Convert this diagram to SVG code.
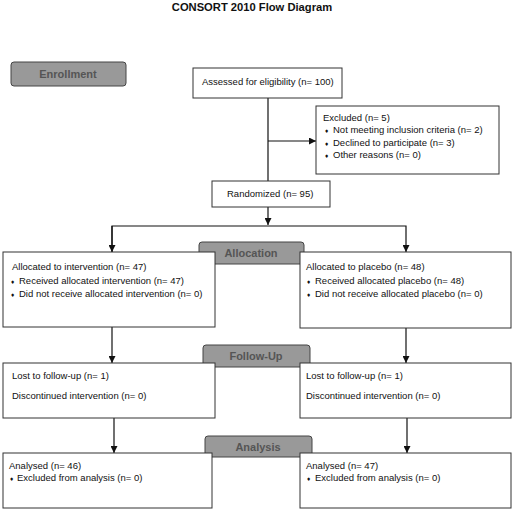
<svg xmlns="http://www.w3.org/2000/svg" width="512" height="510" viewBox="0 0 512 510">
<defs>
<marker id="ah" viewBox="0 0 10 10" refX="10" refY="5" markerWidth="7" markerHeight="7" markerUnits="userSpaceOnUse" orient="auto">
<path d="M0,0 L10,5 L0,10 z" fill="#111"/>
</marker>
<style>
.box{fill:#fff;stroke:#333;stroke-width:1}
.lab{fill:#999;stroke:#444;stroke-width:1}
.t{font-family:"Liberation Sans",Arial,sans-serif;font-size:9.5px;fill:#111}
.b{font-size:6.5px}
.lt{font-family:"Liberation Sans",Arial,sans-serif;font-size:11px;font-weight:bold;fill:#555;text-anchor:middle}
.ln{fill:none;stroke:#111;stroke-width:1.2}
</style>
</defs>
<rect width="512" height="510" fill="#fff"/>
<text x="252" y="11" font-family="Liberation Sans, Arial, sans-serif" font-size="11.2" font-weight="bold" text-anchor="middle" fill="#111">CONSORT 2010 Flow Diagram</text>

<g id="connectors">
<line class="ln" x1="268" y1="98" x2="268" y2="181"/>
<line class="ln" x1="268" y1="141" x2="316" y2="141" marker-end="url(#ah)"/>
<line class="ln" x1="268" y1="207" x2="268" y2="225" marker-end="url(#ah)"/>
<polyline class="ln" points="112,252 112,226 406,226 406,252" marker-end="url(#ah)"/>
<line class="ln" x1="112" y1="226" x2="112" y2="252" marker-end="url(#ah)"/>
<line class="ln" x1="112" y1="327" x2="112" y2="363" marker-end="url(#ah)"/>
<line class="ln" x1="406" y1="328" x2="406" y2="363" marker-end="url(#ah)"/>
<line class="ln" x1="114" y1="418" x2="114" y2="453" marker-end="url(#ah)"/>
<line class="ln" x1="407" y1="418" x2="407" y2="453" marker-end="url(#ah)"/>
</g>

<g id="enrollment">
<rect class="lab" x="11" y="62" width="115" height="24" rx="3"/>
<text class="lt" x="68" y="78">Enrollment</text>
</g>

<g id="assessed">
<rect class="box" x="193" y="68" width="149" height="30"/>
<text class="t" x="202" y="84.5">Assessed for eligibility (n= 100)</text>
</g>

<g id="excluded">
<rect class="box" x="316" y="106" width="183" height="68"/>
<text class="t" x="323" y="121">Excluded (n= 5)</text>
<text class="t" x="325" y="133"><tspan class="b">♦</tspan><tspan x="333">Not meeting inclusion criteria (n= 2)</tspan></text>
<text class="t" x="325" y="146"><tspan class="b">♦</tspan><tspan x="333">Declined to participate (n= 3)</tspan></text>
<text class="t" x="325" y="158"><tspan class="b">♦</tspan><tspan x="333">Other reasons (n= 0)</tspan></text>
</g>

<g id="randomized">
<rect class="box" x="212" y="181" width="118" height="26"/>
<text class="t" x="227" y="197">Randomized (n= 95)</text>
</g>

<g id="allocation-label">
<rect class="lab" x="199" y="242" width="105" height="22" rx="3"/>
<text class="lt" x="251" y="257">Allocation</text>
</g>

<g id="alloc-intervention">
<rect class="box" x="3" y="252" width="212" height="75"/>
<text class="t" x="12" y="270">Allocated to intervention (n= 47)</text>
<text class="t" x="11" y="284"><tspan class="b">♦</tspan><tspan x="19">Received allocated intervention (n= 47)</tspan></text>
<text class="t" x="11" y="297"><tspan class="b">♦</tspan><tspan x="19">Did not receive allocated intervention (n=  0)</tspan></text>
</g>

<g id="alloc-placebo">
<rect class="box" x="300" y="252" width="211" height="76"/>
<text class="t" x="306" y="270">Allocated to placebo (n= 48)</text>
<text class="t" x="307" y="284"><tspan class="b">♦</tspan><tspan x="315">Received allocated placebo (n= 48)</tspan></text>
<text class="t" x="307" y="297"><tspan class="b">♦</tspan><tspan x="315">Did not receive allocated placebo (n= 0)</tspan></text>
</g>

<g id="followup-label">
<rect class="lab" x="203" y="345" width="107" height="22" rx="3"/>
<text class="lt" x="256" y="360">Follow-Up</text>
</g>

<g id="followup-intervention">
<rect class="box" x="3" y="363" width="212" height="55"/>
<text class="t" x="12" y="379">Lost to follow-up (n= 1)</text>
<text class="t" x="12" y="399">Discontinued intervention (n= 0)</text>
</g>

<g id="followup-placebo">
<rect class="box" x="300" y="363" width="211" height="55"/>
<text class="t" x="306" y="379">Lost to follow-up (n= 1)</text>
<text class="t" x="306" y="399">Discontinued intervention (n= 0)</text>
</g>

<g id="analysis-label">
<rect class="lab" x="205" y="436" width="107" height="21" rx="3"/>
<text class="lt" x="258" y="451">Analysis</text>
</g>

<g id="analysis-intervention">
<rect class="box" x="3" y="453" width="209" height="55"/>
<text class="t" x="9" y="469">Analysed (n= 46)</text>
<text class="t" x="10" y="481"><tspan class="b">♦</tspan><tspan x="17">Excluded from analysis (n= 0)</tspan></text>
</g>

<g id="analysis-placebo">
<rect class="box" x="300" y="453" width="211" height="55"/>
<text class="t" x="306" y="469">Analysed (n= 47)</text>
<text class="t" x="307" y="481"><tspan class="b">♦</tspan><tspan x="315">Excluded from analysis (n= 0)</tspan></text>
</g>
</svg>
